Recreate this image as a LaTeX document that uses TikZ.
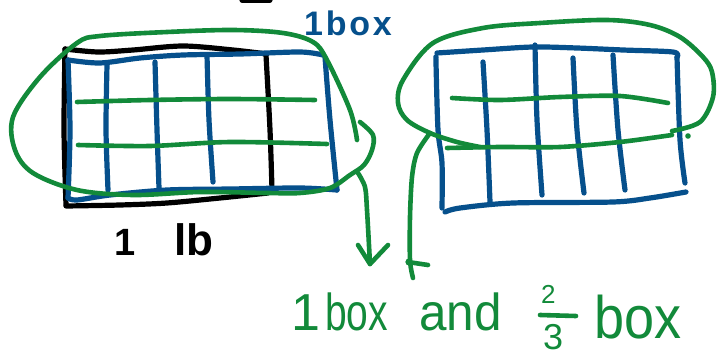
\documentclass[tikz,border=0pt]{standalone}
\usepackage{fontspec}
\setmainfont{Liberation Sans}
\definecolor{blueink}{RGB}{6,80,140}
\definecolor{greenink}{RGB}{18,138,58}
\begin{document}
\begin{tikzpicture}[x=1pt,y=-1pt,
  ink/.style={line width=5.2pt,line cap=round,line join=round},
  blk/.style={ink,black},
  blu/.style={ink,blueink},
  grn/.style={ink,greenink,line width=4.6pt},
  gtxt/.style={text=greenink,inner sep=0pt,anchor=base west},
  btxt/.style={text=blueink,inner sep=0pt,anchor=base west},
  ktxt/.style={text=black,inner sep=0pt,anchor=base west}]
\useasboundingbox (0,0) rectangle (720,356);
\fill[white] (0,0) rectangle (720,356);
% fragment at top
\draw[blk] (242,0) -- (270,0);
% ---------- left figure ----------
% black rectangle
\draw[blk] plot[smooth,tension=.5] coordinates {(267,54)(233,50)(183,46)(133,50)(98,52)(65,49)};
\draw[blk] plot[smooth,tension=.5] coordinates {(65,49)(64,130)(66,205)};
\draw[blk] plot[smooth,tension=.5] coordinates {(66,206)(120,205)(167,203)(220,198)(268,193)};
\draw[blk] plot[smooth,tension=.5] coordinates {(266,55)(270,130)(272,190)};
% blue rectangle
\draw[blu] plot[smooth,tension=.5] coordinates {(68,60)(100,63)(140,58)(183,55)(240,54)(300,52)(323,55)};
\draw[blu] plot[smooth,tension=.5] coordinates {(325,57)(330,120)(337,190)};
\draw[blu] plot[smooth,tension=.5] coordinates {(337,190)(300,188)(230,189)(167,190)(110,195)(77,200)(68,198)};
\draw[blu] plot[smooth,tension=.5] coordinates {(68,198)(70,130)(68,60)};
\draw[blu] plot[smooth,tension=.5] coordinates {(107,65)(106,130)(108,190)};
\draw[blu] plot[smooth,tension=.5] coordinates {(155,62)(157,130)(159,188)};
\draw[blu] plot[smooth,tension=.5] coordinates {(207,55)(209,120)(213,182)};
% green lines
\draw[grn] plot[smooth,tension=.5] coordinates {(77,102)(150,100)(230,99)(315,100)};
\draw[grn] plot[smooth,tension=.5] coordinates {(78,145)(150,146)(230,142)(327,144)};
% green loop
\draw[grn] plot[smooth,tension=.55] coordinates {(357,140)(350,110)(327,60)(313,42)(283,33)(233,30)(167,32)(100,36)(77,43)(40,77)(13,117)(15,150)(33,173)(77,190)(133,195)(200,192)(267,193)(300,193)(330,188)(350,175)(364,165)(372,150)(373,135)(360,122)};
% arrow down
\coordinate (aL0) at (358,173);
\coordinate (aL1) at (370,264);
\draw[grn] plot[smooth,tension=.5] coordinates {(aL0)(365,187)(367,210)(aL1)};
\draw[grn] (358,245) -- (aL1) -- (388,245);
% labels
\node[btxt] (topbox) at (304,35) {\fontsize{34}{34}\selectfont\bfseries\addfontfeature{LetterSpace=8}1box};
\node[ktxt] (one) at (114,255) {\fontsize{38}{38}\selectfont\bfseries 1};
\node[ktxt] (lb) at (174,255) {\fontsize{44}{44}\selectfont\bfseries lb};
% ---------- right figure ----------
\draw[blu] plot[smooth,tension=.5] coordinates {(437,53)(483,50)(533,47)(577,48)(623,50)(673,52)(677,57)};
\draw[blu] plot[smooth,tension=.5] coordinates {(436,58)(436,63)(438,130)(442,163)(442,208)};
\draw[blu] plot[smooth,tension=.5] coordinates {(677,57)(680,140)(685,183)};
\draw[blu] plot[smooth,tension=.5] coordinates {(686,192)(650,198)(613,202)(513,203)(460,208)(445,212)};
\draw[blu] plot[smooth,tension=.5] coordinates {(483,62)(487,130)(490,202)};
\draw[blu] plot[smooth,tension=.5] coordinates {(535,45)(537,120)(542,195)};
\draw[blu] plot[smooth,tension=.5] coordinates {(573,58)(577,130)(584,193)};
\draw[blu] plot[smooth,tension=.5] coordinates {(613,55)(618,130)(625,190)};
\draw[grn] plot[smooth,tension=.5] coordinates {(452,98)(500,100)(560,97)(620,96)(668,103)};
\draw[grn] plot[smooth,tension=.5] coordinates {(447,148)(500,147)(560,147)(620,142)(672,135)};
\draw[grn] plot[smooth,tension=.55] coordinates {(672,131)(700,122)(713,97)(712,72)(703,57)(680,37)(650,25)(607,20)(540,23)(483,28)(433,43)(403,80)(398,103)(407,120)(430,133)(457,142)(480,147)};
\fill[greenink] (688,136) circle (2.8);
\coordinate (aR0) at (430,133);
\coordinate (aR1) at (413,278);
\draw[grn] plot[smooth,tension=.5] coordinates {(aR0)(417,153)(412,177)(410,217)(410,260)(aR1)};
\draw[grn] (408,262) -- (428,265);
\fill[greenink] (409,262) circle (3.6);
% ---------- bottom text ----------
\node[gtxt] (b1) at (291,330) {\fontsize{52}{52}\selectfont 1};
\node[gtxt] (bbox) at (325,330) {\fontsize{52}{52}\selectfont\scalebox{0.75}[1]{box}};
\node[gtxt] (band) at (419,330) {\fontsize{52}{52}\selectfont\scalebox{0.95}[1]{and}};
\node[gtxt] (num) at (541,303) {\fontsize{26}{26}\selectfont 2};
\draw[grn] (540,315) -- (576,316);
\node[gtxt] (den) at (543,349) {\fontsize{36}{36}\selectfont 3};
\node[gtxt] (bbox2) at (594,338) {\fontsize{60}{60}\selectfont\scalebox{0.9}[1]{box}};
\end{tikzpicture}
\end{document}
